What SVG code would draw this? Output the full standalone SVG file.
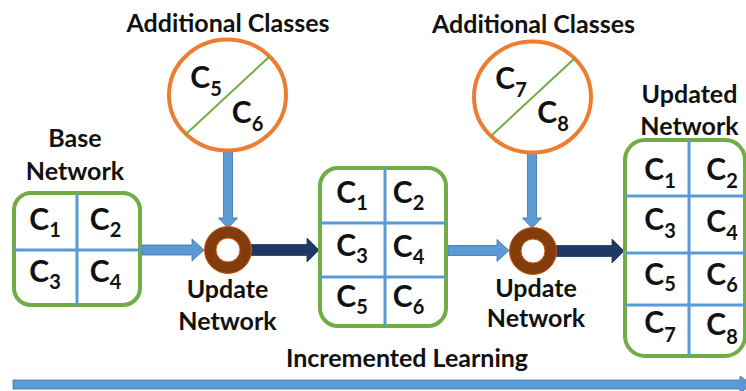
<svg xmlns="http://www.w3.org/2000/svg" width="746" height="391" viewBox="0 0 746 391">
<style>
.lbl{font-family:Lato,"Liberation Sans",sans-serif;font-weight:bold;font-size:25px;fill:#111;text-anchor:middle}
.c{font-family:Lato,"Liberation Sans",sans-serif;font-weight:bold;font-size:30px;fill:#111;text-anchor:middle}
.s{font-size:20px}
.box{fill:#fff;stroke:#70AD47;stroke-width:4}
.div{stroke:#5B9BD5;stroke-width:3;fill:none}
.cls{fill:#fff;stroke:#ED7D31;stroke-width:4}
.diag{stroke:#70AD47;stroke-width:2}
.la{fill:#5B9BD5;stroke:#41719C;stroke-width:0.8}
.da{fill:#203864;stroke:#1F3864;stroke-width:0.8}
.ring{fill:#843C0C;stroke:#C55A11;stroke-width:1;fill-rule:evenodd}
</style>
<g id="connectors">
<polygon class="la" points="223.5,151 232.5,151 232.5,218 237.5,218 228,228 218.5,218 223.5,218"/>
<polygon class="la" points="527.5,153 536.5,153 536.5,218 541.5,218 532,228 522.5,218 527.5,218"/>
<polygon class="la" points="142,245 192,245 192,239 204,250 192,261 192,255 142,255"/>
<polygon class="la" points="448,245.5 497,245.5 497,239.5 509,250.5 497,261.5 497,255.5 448,255.5"/>
<polygon class="da" points="251,244.5 307,244.5 307,238 319,250 307,262 307,255.5 251,255.5"/>
<polygon class="da" points="556,245.5 612,245.5 612,239 624,251 612,263 612,256.5 556,256.5"/>
<polygon class="la" points="13,380 740,380 740,376 752,384.5 740,393 740,389 13,389"/>
</g>
<g id="add1">
<text class="lbl" x="228" y="32">Additional Classes</text>
<ellipse class="cls" cx="227.5" cy="95" rx="58.5" ry="55.5"/>
<line class="diag" x1="269" y1="57" x2="185" y2="135"/>
<text class="c" x="206" y="88">C<tspan class="s" dy="8">5</tspan></text>
<text class="c" x="247.5" y="123">C<tspan class="s" dy="8">6</tspan></text>
</g>
<g id="add2">
<text class="lbl" x="533.5" y="33">Additional Classes</text>
<ellipse class="cls" cx="532.5" cy="97" rx="58.5" ry="55.5"/>
<line class="diag" x1="575" y1="58" x2="491" y2="136"/>
<text class="c" x="511" y="89">C<tspan class="s" dy="8">7</tspan></text>
<text class="c" x="553" y="123">C<tspan class="s" dy="8">8</tspan></text>
</g>
<g id="update1">
<path class="ring" d="M204.5,250a23.5,23.5 0 1,0 47,0a23.5,23.5 0 1,0 -47,0ZM216,250a12,12 0 1,0 24,0a12,12 0 1,0 -24,0Z"/>
<text class="lbl" x="227.5" y="298">Update</text>
<text class="lbl" x="227.5" y="330">Network</text>
</g>
<g id="update2">
<path class="ring" d="M509.5,251a23.5,23.5 0 1,0 47,0a23.5,23.5 0 1,0 -47,0ZM521,251a12,12 0 1,0 24,0a12,12 0 1,0 -24,0Z"/>
<text class="lbl" x="536" y="297">Update</text>
<text class="lbl" x="536" y="327">Network</text>
</g>
<g id="base">
<text class="lbl" x="75" y="147">Base</text>
<text class="lbl" x="75" y="180">Network</text>
<rect class="box" x="14" y="193" width="126" height="112" rx="17"/>
<path class="div" d="M77,193V305M14,250H142"/>
<text class="c" x="45" y="230">C<tspan class="s" dy="7">1</tspan></text>
<text class="c" x="105.5" y="230">C<tspan class="s" dy="7">2</tspan></text>
<text class="c" x="45" y="282">C<tspan class="s" dy="7">3</tspan></text>
<text class="c" x="105.5" y="282">C<tspan class="s" dy="7">4</tspan></text>
</g>
<g id="mid">
<rect class="box" x="320" y="168" width="126" height="158" rx="18"/>
<path class="div" d="M385,168V326M320,223H446M320,277H446"/>
<text class="c" x="352" y="203">C<tspan class="s" dy="7">1</tspan></text>
<text class="c" x="408.5" y="203">C<tspan class="s" dy="7">2</tspan></text>
<text class="c" x="352" y="256">C<tspan class="s" dy="7">3</tspan></text>
<text class="c" x="408.5" y="257">C<tspan class="s" dy="7">4</tspan></text>
<text class="c" x="352" y="307">C<tspan class="s" dy="7">5</tspan></text>
<text class="c" x="408.5" y="307">C<tspan class="s" dy="7">6</tspan></text>
</g>
<g id="updated">
<text class="lbl" x="689.5" y="103">Updated</text>
<text class="lbl" x="689.5" y="135">Network</text>
<rect class="box" x="625" y="140" width="120" height="216" rx="20"/>
<path class="div" d="M689,140V356M625,196H745M625,253H745M625,305H745"/>
<text class="c" x="660" y="180">C<tspan class="s" dy="8">1</tspan></text>
<text class="c" x="722" y="180">C<tspan class="s" dy="8">2</tspan></text>
<text class="c" x="660" y="230">C<tspan class="s" dy="8">3</tspan></text>
<text class="c" x="722" y="232">C<tspan class="s" dy="8">4</tspan></text>
<text class="c" x="660" y="285">C<tspan class="s" dy="6">5</tspan></text>
<text class="c" x="722" y="285">C<tspan class="s" dy="7">6</tspan></text>
<text class="c" x="660" y="333">C<tspan class="s" dy="9">7</tspan></text>
<text class="c" x="722" y="335">C<tspan class="s" dy="9">8</tspan></text>
</g>
<g id="learning">
<text class="lbl" x="407" y="367">Incremented Learning</text>
</g>
</svg>
